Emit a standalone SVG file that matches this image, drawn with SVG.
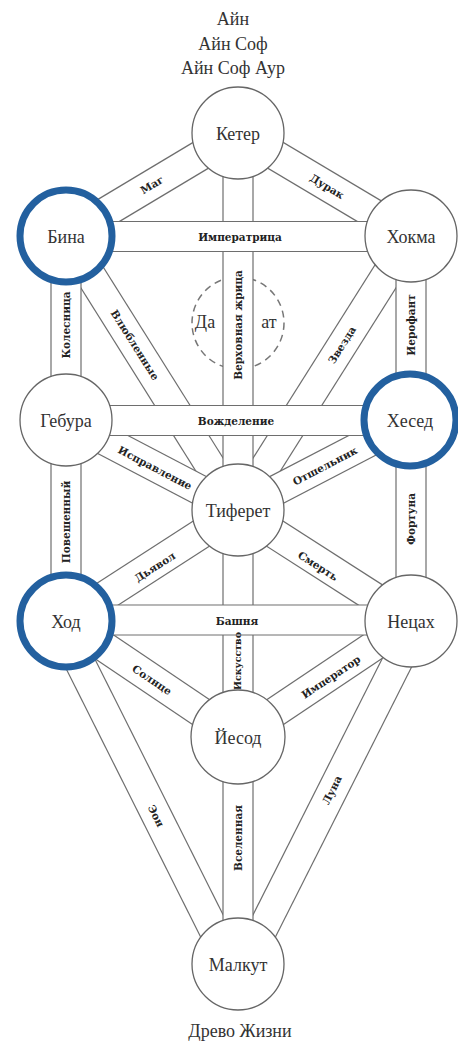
<svg xmlns="http://www.w3.org/2000/svg" xmlns:xlink="http://www.w3.org/1999/xlink" width="458" height="1044" viewBox="0 0 458 1044">
<style>
.bo{stroke:#6e6e6e;stroke-width:31.2;fill:none}
.bi{stroke:#fff;stroke-width:28.8;fill:none}
.node{fill:#fff;stroke:#666;stroke-width:1.3}
.blue{fill:#fff;stroke:#23609f;stroke-width:7}
.daat{fill:none;stroke:#777;stroke-width:1.5;stroke-dasharray:7 5}
.nl{font-family:"Liberation Serif","Times New Roman",serif;font-size:18px;fill:#333;text-anchor:middle}
.pl{font-family:"DejaVu Serif",serif;font-weight:bold;font-size:10.5px;fill:#222;text-anchor:middle}
.sm{font-size:9.5px}
.tt{font-family:"Liberation Serif","Times New Roman",serif;font-size:18px;fill:#333;text-anchor:middle}
</style>
<defs>
<line id="l-mag" x1="238" y1="133" x2="66" y2="236"/>
<line id="l-durak" x1="238" y1="133" x2="411" y2="236"/>
<line id="l-zvezda" x1="411" y1="236" x2="238" y2="510"/>
<line id="l-vlyub" x1="66" y1="236" x2="238" y2="510"/>
<line id="l-otsh" x1="411" y1="420" x2="238" y2="510"/>
<line id="l-ispr" x1="66" y1="420" x2="238" y2="510"/>
<line id="l-dyavol" x1="238" y1="510" x2="66" y2="621"/>
<line id="l-smert" x1="238" y1="510" x2="411" y2="621"/>
<line id="l-imperator" x1="411" y1="621" x2="238" y2="737"/>
<line id="l-solnce" x1="66" y1="621" x2="238" y2="737"/>
<line id="l-eon" x1="59" y1="621" x2="231" y2="964"/>
<line id="l-luna" x1="418" y1="621" x2="245" y2="964"/>
<line id="l-verh" x1="238" y1="133" x2="238" y2="510"/>
<line id="l-isk" x1="238" y1="510" x2="238" y2="737"/>
<line id="l-vsel" x1="238" y1="737" x2="238" y2="964"/>
<line id="l-kol" x1="66" y1="236" x2="66" y2="420"/>
<line id="l-pov" x1="66" y1="420" x2="66" y2="621"/>
<line id="l-ier" x1="411" y1="236" x2="411" y2="420"/>
<line id="l-fort" x1="411" y1="420" x2="411" y2="621"/>
<line id="l-impr" x1="66" y1="236.5" x2="411" y2="236.5"/>
<line id="l-vozhd" x1="66" y1="420.5" x2="411" y2="420.5"/>
<line id="l-bash" x1="66" y1="620" x2="411" y2="620"/>
</defs>

<g id="title">
<text class="tt" x="233" y="25">Айн</text>
<text class="tt" x="233" y="49.5">Айн Соф</text>
<text class="tt" x="233" y="74">Айн Соф Аур</text>
</g>

<g id="daat">
<circle class="daat" cx="238" cy="323" r="46"/>
<text class="nl" x="205" y="328">Да</text>
<text class="nl" x="269" y="328">ат</text>
</g>

<g id="connectors">
<use xlink:href="#l-mag" class="bo"/><use xlink:href="#l-mag" class="bi"/>
<use xlink:href="#l-durak" class="bo"/><use xlink:href="#l-durak" class="bi"/>
<use xlink:href="#l-zvezda" class="bo"/><use xlink:href="#l-zvezda" class="bi"/>
<use xlink:href="#l-vlyub" class="bo"/><use xlink:href="#l-vlyub" class="bi"/>
<use xlink:href="#l-otsh" class="bo"/><use xlink:href="#l-otsh" class="bi"/>
<use xlink:href="#l-ispr" class="bo"/><use xlink:href="#l-ispr" class="bi"/>
<use xlink:href="#l-dyavol" class="bo"/><use xlink:href="#l-dyavol" class="bi"/>
<use xlink:href="#l-smert" class="bo"/><use xlink:href="#l-smert" class="bi"/>
<use xlink:href="#l-imperator" class="bo"/><use xlink:href="#l-imperator" class="bi"/>
<use xlink:href="#l-solnce" class="bo"/><use xlink:href="#l-solnce" class="bi"/>
<use xlink:href="#l-eon" class="bo"/><use xlink:href="#l-eon" class="bi"/>
<use xlink:href="#l-luna" class="bo"/><use xlink:href="#l-luna" class="bi"/>
<use xlink:href="#l-verh" class="bo"/><use xlink:href="#l-verh" class="bi"/>
<use xlink:href="#l-isk" class="bo"/><use xlink:href="#l-isk" class="bi"/>
<use xlink:href="#l-vsel" class="bo"/><use xlink:href="#l-vsel" class="bi"/>
<use xlink:href="#l-kol" class="bo"/><use xlink:href="#l-kol" class="bi"/>
<use xlink:href="#l-pov" class="bo"/><use xlink:href="#l-pov" class="bi"/>
<use xlink:href="#l-ier" class="bo"/><use xlink:href="#l-ier" class="bi"/>
<use xlink:href="#l-fort" class="bo"/><use xlink:href="#l-fort" class="bi"/>
<use xlink:href="#l-impr" class="bo"/><use xlink:href="#l-impr" class="bi"/>
<use xlink:href="#l-vozhd" class="bo"/><use xlink:href="#l-vozhd" class="bi"/>
<use xlink:href="#l-bash" class="bo"/><use xlink:href="#l-bash" class="bi"/>

<g id="path-labels">
<text class="pl" transform="translate(152,185) rotate(-30.9)" dy="0.35em">Маг</text>
<text class="pl" transform="translate(327,186.5) rotate(30.9)" dy="0.35em">Дурак</text>
<text class="pl" x="240" y="237" dy="0.35em">Императрица</text>
<text class="pl" transform="translate(238,325) rotate(-90)" dy="0.35em">Верховная жрица</text>
<text class="pl" transform="translate(342,345) rotate(-57.8)" dy="0.35em">Звезда</text>
<text class="pl" transform="translate(411,325) rotate(-90)" dy="0.35em">Иерофант</text>
<text class="pl" transform="translate(66,325) rotate(-90)" dy="0.35em">Колесница</text>
<text class="pl" transform="translate(135,345) rotate(57.8)" dy="0.35em">Влюбленные</text>
<text class="pl" x="236" y="421" dy="0.35em">Вожделение</text>
<text class="pl" transform="translate(325,466) rotate(-27.6)" dy="0.35em">Отшельник</text>
<text class="pl" transform="translate(411,519) rotate(-90)" dy="0.35em">Фортуна</text>
<text class="pl" transform="translate(155,468) rotate(27.6)" dy="0.35em">Исправление</text>
<text class="pl" transform="translate(66,522) rotate(-90)" dy="0.35em">Повешенный</text>
<text class="pl" transform="translate(155,567) rotate(-32.8)" dy="0.35em">Дьявол</text>
<text class="pl" transform="translate(318,566) rotate(32.8)" dy="0.35em">Смерть</text>
<text class="pl" x="237" y="621" dy="0.35em">Башня</text>
<text class="pl sm" transform="translate(238,661) rotate(-90)" dy="0.35em">Искусство</text>
<text class="pl" transform="translate(331,677) rotate(-33.8)" dy="0.35em">Император</text>
<text class="pl" transform="translate(152,680) rotate(34)" dy="0.35em">Солнце</text>
<text class="pl" transform="translate(156,816) rotate(63.4)" dy="0.35em">Эон</text>
<text class="pl" transform="translate(332,790) rotate(-63.4)" dy="0.35em">Луна</text>
<text class="pl" transform="translate(238,838) rotate(-90)" dy="0.35em">Вселенная</text>
</g>
</g>

<g id="keter"><circle class="node" cx="238" cy="133" r="46"/><text class="nl" x="238" y="139.5">Кетер</text></g>
<g id="bina"><circle class="blue" cx="66" cy="236" r="46"/><text class="nl" x="66" y="242.5">Бина</text></g>
<g id="hokma"><circle class="node" cx="411" cy="236" r="46"/><text class="nl" x="411" y="242.5">Хокма</text></g>
<g id="gebura"><circle class="node" cx="66" cy="420" r="46"/><text class="nl" x="66" y="426.5">Гебура</text></g>
<g id="hesed"><circle class="blue" cx="410" cy="420" r="46"/><text class="nl" x="410" y="426.5">Хесед</text></g>
<g id="tiferet"><circle class="node" cx="238" cy="510" r="46"/><text class="nl" x="238" y="516.5">Тиферет</text></g>
<g id="hod"><circle class="blue" cx="66" cy="621" r="46"/><text class="nl" x="66" y="627.5">Ход</text></g>
<g id="netzah"><circle class="node" cx="411" cy="621" r="46"/><text class="nl" x="411" y="627.5">Нецах</text></g>
<g id="yesod"><circle class="node" cx="238" cy="737" r="47"/><text class="nl" x="238" y="743.5">Йесод</text></g>
<g id="malkut"><circle class="node" cx="238" cy="964" r="46"/><text class="nl" x="238" y="970.5">Малкут</text></g>

<g id="caption"><text class="tt" x="240" y="1037">Древо Жизни</text></g>
</svg>
